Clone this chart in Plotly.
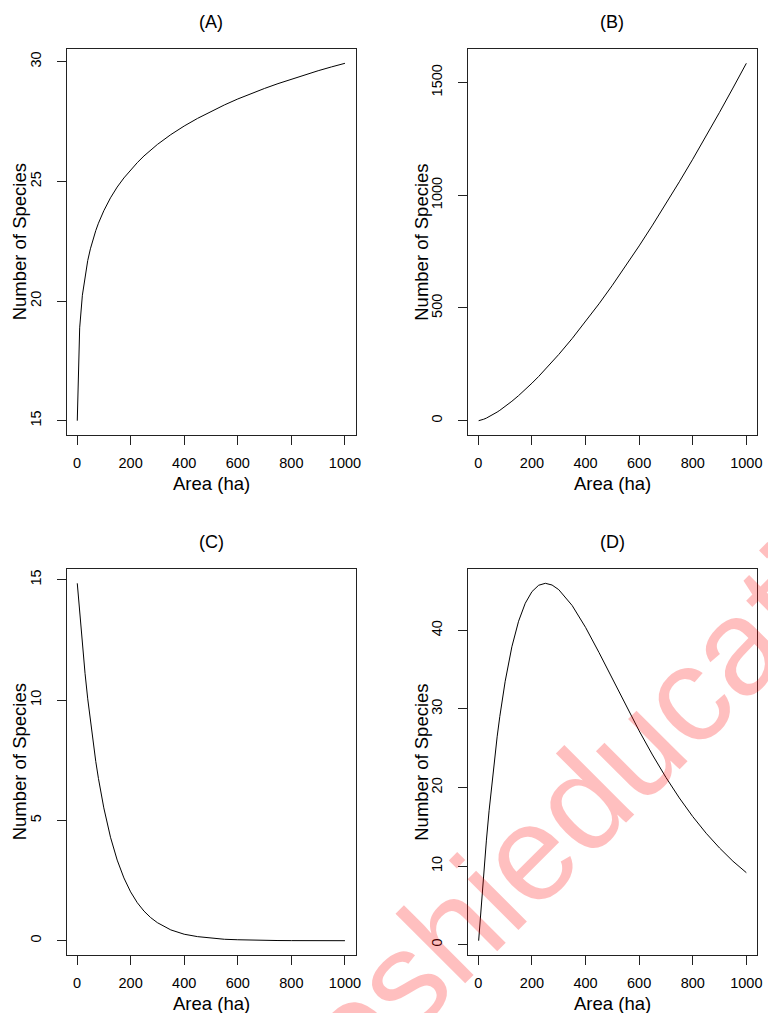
import plotly.graph_objects as go

# ---- data ----
area = [1, 10, 20, 30, 40, 50, 60, 70, 80, 90, 100, 125, 150, 175, 200, 225, 250, 275,
        300, 350, 400, 450, 500, 550, 600, 650, 700, 750, 800, 850, 900, 950, 1000]

species_a = [15.00, 18.88, 20.24, 21.08, 21.69, 22.18, 22.59, 22.94, 23.25, 23.52, 23.77,
             24.31, 24.76, 25.14, 25.48, 25.78, 26.06, 26.31, 26.54, 26.95, 27.31, 27.63,
             27.92, 28.19, 28.44, 28.67, 28.88, 29.08, 29.27, 29.45, 29.62, 29.78, 29.93]

species_b = [0.1, 2.51, 6.63, 11.69, 17.49, 23.91, 30.86, 38.30, 46.16, 54.44, 63.10,
             86.24, 111.3, 138.1, 166.5, 196.3, 227.6, 260.1, 293.8, 364.5, 439.4, 518.2,
             600.5, 686.3, 775.2, 867.2, 961.9, 1059.5, 1159.5, 1262.3, 1367.5, 1475.1, 1584.9]

species_c = [14.85, 13.57, 12.28, 11.11, 10.05, 9.10, 8.23, 7.45, 6.74, 6.10, 5.52,
             4.30, 3.35, 2.61, 2.03, 1.58, 1.23, 0.96, 0.75, 0.45, 0.27, 0.17,
             0.10, 0.06, 0.04, 0.02, 0.01, 0.008, 0.005, 0.003, 0.002, 0.001, 0.001]

species_d = [0.50, 4.80, 9.23, 13.30, 17.04, 20.47, 23.60, 26.45, 29.05, 31.39, 33.52,
             37.91, 41.16, 43.45, 44.93, 45.74, 45.99, 45.77, 45.18, 43.16, 40.38, 37.19,
             33.83, 30.47, 27.21, 24.14, 21.28, 18.67, 16.30, 14.18, 12.30, 10.62, 9.16]

panel_titles = ["(A)", "(B)", "(C)", "(D)"]
x_ticks = [0, 200, 400, 600, 800, 1000]
y_ticks = [[15, 20, 25, 30], [0, 500, 1000, 1500], [0, 5, 10, 15], [0, 10, 20, 30, 40]]
x_label = "Area (ha)"
y_label = "Number of Species"
watermark = "Toshieducation"

# ---- layout geometry (pixels) ----
W, H = 768, 1013
boxes = [(67, 358, 49, 435), (471, 762, 49, 435), (67, 358, 569, 955), (471, 762, 569, 955)]
FONT = "Liberation Sans, Arial, sans-serif"


def r_range(vals):
    lo, hi = min(vals), max(vals)
    ext = 0.04 * (hi - lo)
    return [lo - ext, hi + ext]


def px(x):
    return x / W


def py(y):
    return 1 - y / H


fig = go.Figure()
series = [species_a, species_b, species_c, species_d]
annotations = []
for i, (ys, (x0, x1, y0, y1)) in enumerate(zip(series, boxes)):
    n = "" if i == 0 else str(i + 1)
    fig.add_trace(go.Scatter(x=area, y=ys, mode="lines",
                             line=dict(color="black", width=1),
                             xaxis="x" + n, yaxis="y" + n, showlegend=False,
                             hoverinfo="skip"))
    common = dict(showline=True, linecolor="#222222", linewidth=1, mirror=True,
                  ticks="outside", ticklen=9, tickwidth=1, tickcolor="#222222",
                  showgrid=False, zeroline=False,
                  tickfont=dict(family=FONT, size=14.5, color="black"))
    fig.update_layout(**{
        "xaxis" + n: dict(domain=[px(x0), px(x1)], range=r_range(area),
                          tickvals=x_ticks, anchor="y" + n, ticklabelstandoff=6, **common),
        "yaxis" + n: dict(domain=[py(y1), py(y0)], range=r_range(ys),
                          tickvals=y_ticks[i], tickangle=-90, anchor="x" + n,
                          ticklabelstandoff=10, **common),
    })
    cx = (x0 + x1) / 2
    cy = (y0 + y1) / 2
    annotations.append(dict(text=panel_titles[i], x=px(cx), y=py(y0 - 27),
                            xref="paper", yref="paper", showarrow=False,
                            xanchor="center", yanchor="middle",
                            font=dict(family=FONT, size=18, color="black")))
    annotations.append(dict(text=x_label, x=px(cx), y=py(y1 + 48),
                            xref="paper", yref="paper", showarrow=False,
                            xanchor="center", yanchor="middle",
                            font=dict(family=FONT, size=18.5, color="black")))
    annotations.append(dict(text=y_label, x=px(x0 - 47.5), y=py(cy),
                            xref="paper", yref="paper", showarrow=False,
                            textangle=-90, xanchor="center", yanchor="middle",
                            font=dict(family=FONT, size=18.5, color="black")))

# watermark
annotations.append(dict(text=watermark, x=px(600), y=py(786),
                        xref="paper", yref="paper", showarrow=False,
                        textangle=-45, xanchor="center", yanchor="middle",
                        font=dict(family=FONT, size=136, color="rgba(255,0,0,0.25)")))

fig.update_layout(width=W, height=H, margin=dict(l=0, r=0, t=0, b=0),
                  paper_bgcolor="white", plot_bgcolor="white",
                  annotations=annotations)

fig.write_html("out.html", config={"displayModeBar": False})

# remove the browser's default page margin so the figure sits at (0, 0)
with open("out.html", encoding="utf-8") as f:
    page = f.read()
page = page.replace("<body>", '<body style="margin:0;padding:0;overflow:hidden">', 1)
with open("out.html", "w", encoding="utf-8") as f:
    f.write(page)
